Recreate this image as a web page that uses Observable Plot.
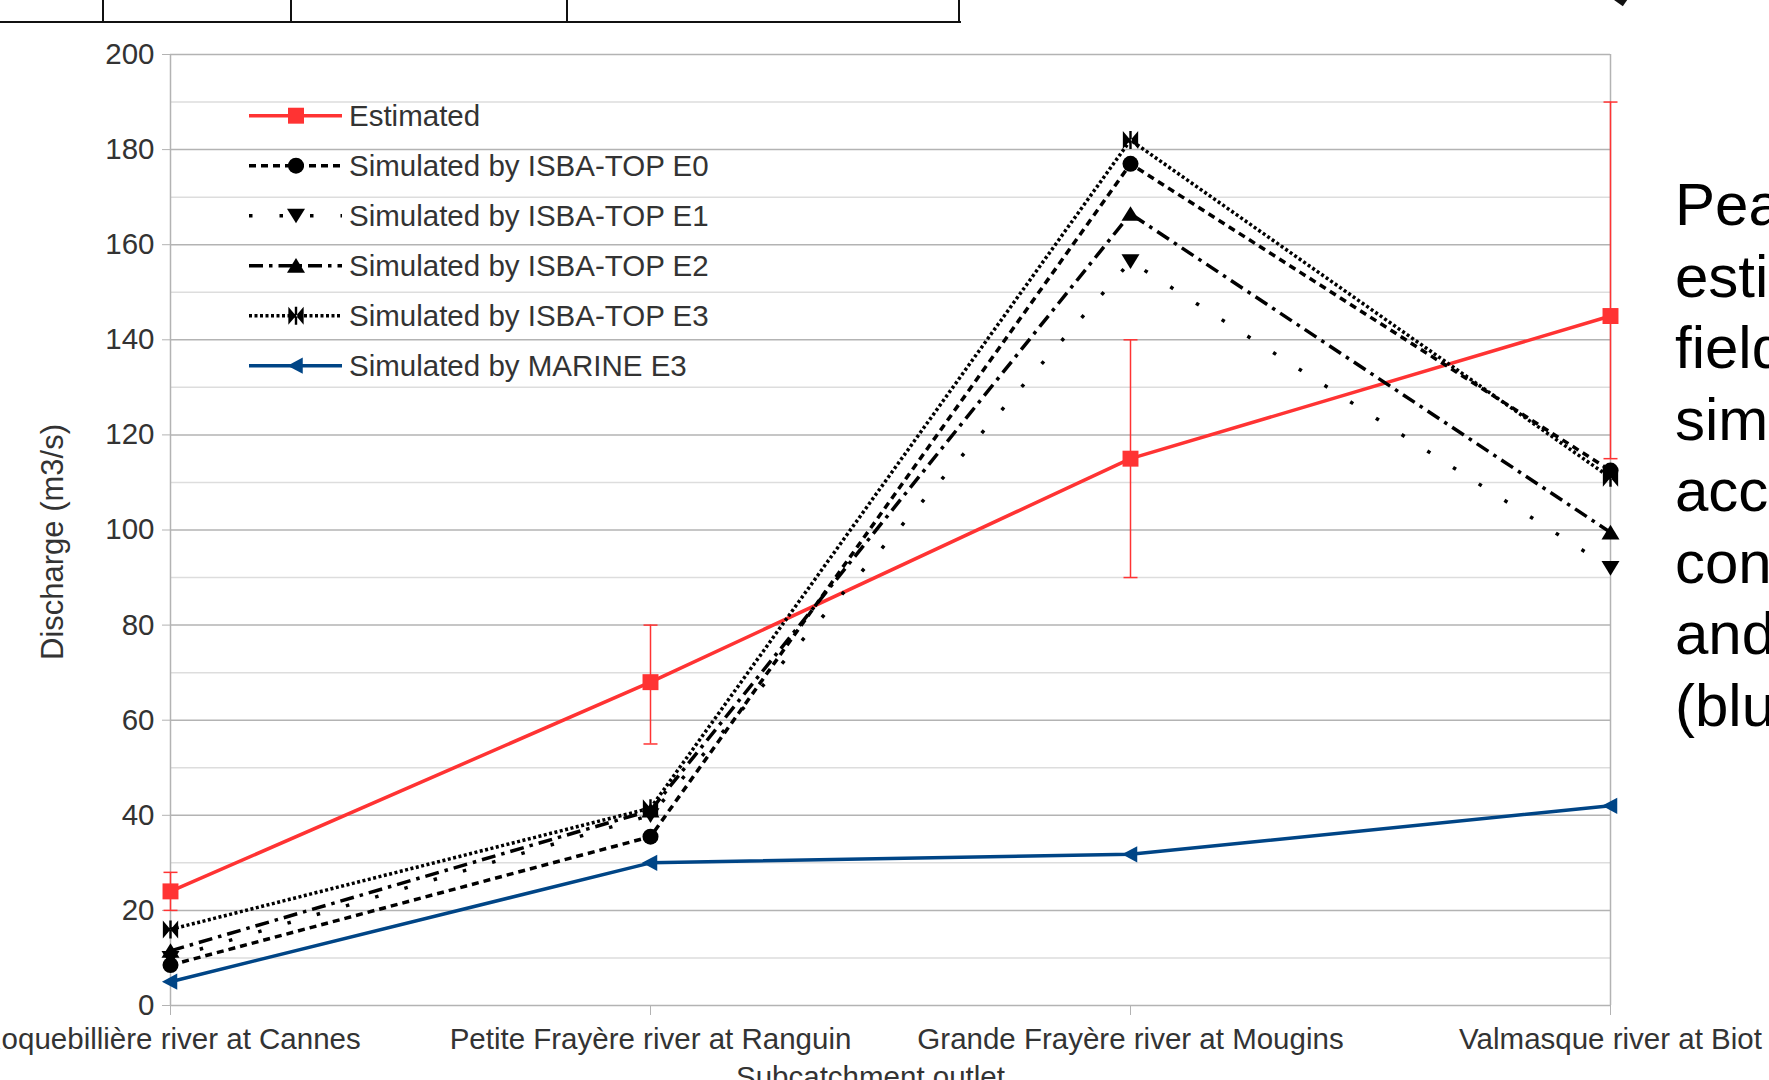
<!DOCTYPE html>
<html>
<head>
<meta charset="utf-8">
<script src="https://cdn.jsdelivr.net/npm/d3@7"></script>
<script src="https://cdn.jsdelivr.net/npm/@observablehq/plot@0.6"></script>
<style>
html, body { margin: 0; padding: 0; background: #fff; }
body { width: 1769px; height: 1080px; overflow: hidden; position: relative; font-family: "Liberation Sans", Arial, sans-serif; }
#chart { position: absolute; left: 0; top: 0; }
#legend { position: absolute; left: 0; top: 0; pointer-events: none; }
#note { position: absolute; left: 1675px; top: 169px; font-size: 60px; line-height: 71.5px; color: #000; white-space: nowrap; }
.tbl { position: absolute; background: #111; }
</style>
</head>
<body>
<div class="tbl" style="left:0;top:21px;width:961px;height:2px"></div>
<div class="tbl" style="left:102px;top:0;width:2px;height:22px"></div>
<div class="tbl" style="left:290px;top:0;width:2px;height:22px"></div>
<div class="tbl" style="left:566px;top:0;width:2px;height:22px"></div>
<div class="tbl" style="left:958px;top:0;width:2px;height:22px"></div>
<div class="tbl" style="left:1616px;top:-7px;width:11px;height:11px;transform:rotate(35deg)"></div>
<div id="chart"></div>
<svg id="legend" width="1769" height="1080"></svg>
<div id="note">Peak discharges<br>estimated from<br>field surveys<br>simulated<br>according to<br>configurations<br>and<br>(blue)</div>
<script>
// ---------------- data ----------------
const categories = [
  "Roquebillière river at Cannes",
  "Petite Frayère river at Ranguin",
  "Grande Frayère river at Mougins",
  "Valmasque river at Biot"
];
const estimated     = [24, 68, 115, 145];
const estimatedLow  = [20, 55, 90, 115];
const estimatedHigh = [28, 80, 140, 190];
const isbaTopE0 = [8.5, 35.5, 177, 112.5];
const isbaTopE1 = [10, 40, 156.5, 92];
const isbaTopE2 = [11.5, 41, 166.5, 99.5];
const isbaTopE3 = [16, 41.5, 182, 111];
const marineE3  = [5, 30, 31.8, 42];
const seriesNames = [
  "Estimated",
  "Simulated by ISBA-TOP E0",
  "Simulated by ISBA-TOP E1",
  "Simulated by ISBA-TOP E2",
  "Simulated by ISBA-TOP E3",
  "Simulated by MARINE E3"
];
const yTickValues  = [0, 20, 40, 60, 80, 100, 120, 140, 160, 180, 200];
const yMinorValues = [10, 30, 50, 70, 90, 110, 130, 150, 170, 190];
const yTitle = "Discharge (m3/s)";
const xTitle = "Subcatchment outlet";

// ---------------- symbols ----------------
const rad = size => Math.sqrt(size / Math.PI);
const symDown = { draw(ctx, size) { const r = rad(size); ctx.moveTo(-r, -r * 0.78); ctx.lineTo(r, -r * 0.78); ctx.lineTo(0, r * 0.85); ctx.closePath(); } };
const symUp = { draw(ctx, size) { const r = rad(size); ctx.moveTo(-r, r * 0.78); ctx.lineTo(r, r * 0.78); ctx.lineTo(0, -r * 0.85); ctx.closePath(); } };
const symLeft = { draw(ctx, size) { const r = rad(size); ctx.moveTo(-r * 0.95, 0); ctx.lineTo(r * 0.75, -r * 0.9); ctx.lineTo(r * 0.75, r * 0.9); ctx.closePath(); } };
const symBowtie = { draw(ctx, size) { const r = rad(size); ctx.moveTo(-r * 0.85, -r); ctx.lineTo(0, 0); ctx.lineTo(-r * 0.85, r); ctx.closePath(); ctx.moveTo(r * 0.85, -r); ctx.lineTo(0, 0); ctx.lineTo(r * 0.85, r); ctx.closePath(); ctx.moveTo(-1.2, -r); ctx.lineTo(1.2, -r); ctx.lineTo(1.2, r); ctx.lineTo(-1.2, r); ctx.closePath(); } };
const symCap = { draw(ctx, size) { const r = rad(size); ctx.moveTo(-r, 0); ctx.lineTo(r, 0); } };

const RED = "#ff3333", BLUE = "#004586", BLACK = "#000000";
const seriesValues = [estimated, isbaTopE0, isbaTopE1, isbaTopE2, isbaTopE3, marineE3];
const seriesStyle = [
  { stroke: RED,   dash: null,          cap: "butt",  symbol: "square", plotSym: "square", r: 9 },
  { stroke: BLACK, dash: "7,5",         cap: "butt",  symbol: d3.symbolCircle, plotSym: "circle", r: 8 },
  { stroke: BLACK, dash: "3.5,27",      cap: "butt",  symbol: symDown, plotSym: symDown, r: 9 },
  { stroke: BLACK, dash: "14,6,3.5,6",  cap: "butt",  symbol: symUp, plotSym: symUp, r: 9 },
  { stroke: BLACK, dash: "3,2.5",       cap: "butt",  symbol: symBowtie, plotSym: symBowtie, r: 9 },
  { stroke: BLUE,  dash: null,          cap: "butt",  symbol: symLeft, plotSym: symLeft, r: 9 }
];

const errRows = categories.map((c, i) => ({ category: c, low: estimatedLow[i], high: estimatedHigh[i] }));

const seriesMarks = seriesNames.flatMap((name, s) => {
  const rows = categories.map((c, i) => ({ series: name, category: c, value: seriesValues[s][i] }));
  const st = seriesStyle[s];
  return [
    Plot.line(rows, { x: "category", y: "value", stroke: st.stroke, strokeWidth: 3.5, strokeDasharray: st.dash, strokeLinecap: st.cap, strokeLinejoin: "miter" }),
    Plot.dot(rows, { x: "category", y: "value", symbol: st.plotSym, r: st.r, fill: st.stroke, stroke: "none" })
  ];
});

const fontFamily = '"Liberation Sans", Arial, sans-serif';
const chart = Plot.plot({
  width: 1769,
  height: 1080,
  marginLeft: 170,
  marginRight: 159,
  marginTop: 54,
  marginBottom: 75,
  x: { type: "point", domain: categories, padding: 0 },
  y: { domain: [0, 200] },
  style: { fontFamily, fontSize: "29.5px", background: "transparent", color: "#333", overflow: "visible" },
  marks: [
    Plot.ruleY(yMinorValues, { stroke: "#dddddd", strokeWidth: 1.5 }),
    Plot.ruleY(yTickValues, { stroke: "#b3b3b3", strokeWidth: 1.5 }),
    Plot.ruleX([categories[0], categories[categories.length - 1]], { stroke: "#b3b3b3", strokeWidth: 1.5 }),
    Plot.axisY({ ticks: yTickValues, tickSize: 8, tickPadding: 8, stroke: "#b3b3b3", fill: "#333", fontSize: 29.5, label: null, tickFormat: d => String(d) }),
    Plot.axisX({ tickSize: 10, tickPadding: 13, stroke: "#b3b3b3", fill: "#333", fontSize: 29.5, label: null }),
    Plot.text([yTitle], { text: d => d, frameAnchor: "left", textAnchor: "middle", lineAnchor: "middle", dx: -117, dy: 12, rotate: -90, fontSize: 31, fill: "#333" }),
    Plot.text([xTitle], { text: d => d, frameAnchor: "bottom", textAnchor: "middle", lineAnchor: "bottom", dx: -20, dy: 81, fontSize: 29.5, fill: "#333" }),
    Plot.ruleX(errRows, { x: "category", y1: "low", y2: "high", stroke: RED, strokeWidth: 1.5 }),
    Plot.dot(errRows, { x: "category", y: "low", symbol: symCap, r: 7, stroke: RED, strokeWidth: 1.5, fill: "none" }),
    Plot.dot(errRows, { x: "category", y: "high", symbol: symCap, r: 7, stroke: RED, strokeWidth: 1.5, fill: "none" }),
    ...seriesMarks
  ]
});
document.getElementById("chart").appendChild(chart);

// ---------------- legend ----------------
const lg = d3.select("#legend");
const legX0 = 249, legX1 = 342, legMark = 296, legText = 349, legY0 = 115.7, legStep = 50;
seriesNames.forEach((name, i) => {
  const st = seriesStyle[i];
  const y = legY0 + i * legStep;
  lg.append("line").attr("x1", legX0).attr("x2", legX1).attr("y1", y).attr("y2", y)
    .attr("stroke", st.stroke).attr("stroke-width", 3.5)
    .attr("stroke-dasharray", st.dash).attr("stroke-linecap", st.cap);
  const sym = st.symbol === "square" ? d3.symbolSquare : st.symbol;
  lg.append("path").attr("transform", `translate(${legMark},${y})`)
    .attr("d", d3.symbol().type(sym).size(Math.PI * st.r * st.r)())
    .attr("fill", st.stroke);
  lg.append("text").attr("x", legText).attr("y", y).attr("dy", "0.35em")
    .attr("font-family", fontFamily).attr("font-size", 29.5).attr("fill", "#333")
    .text(name);
});
</script>
</body>
</html>
